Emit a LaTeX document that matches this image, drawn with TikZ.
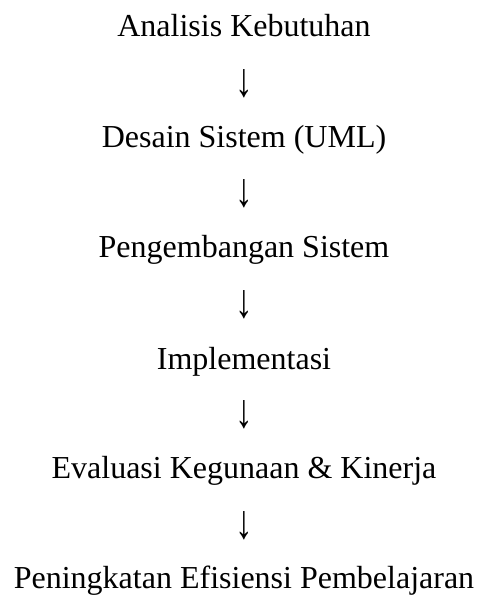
\documentclass[tikz,border=0pt]{standalone}
\usepackage{fontspec}
\setmainfont{Liberation Serif}
\usepackage{tikz}
\usetikzlibrary{positioning}

\newcommand{\downarr}{\scalebox{1.1}[1.5]{↓}}

\begin{document}
\begin{tikzpicture}[x=1pt,y=1pt,
        stage/.style={
                anchor=base,
                inner sep=0pt,
                font=\fontsize{32}{38}\selectfont,
        },
        flow/.style={
                anchor=center,
                inner sep=0pt,
                font=\fontsize{32}{38}\selectfont,
        }]
            \useasboundingbox (0,0) rectangle (477,596);
            \node[stage] (analisis) at (244, 559.3) {Analisis Kebutuhan};
            \node[flow] (a1) at (244, 512.5) {\downarr};
            \node[stage] (desain) at (244, 448) {Desain Sistem (UML)};
            \node[flow] (a2) at (244, 402) {\downarr};
            \node[stage] (pengembangan) at (244, 338) {Pengembangan Sistem};
            \node[flow] (a3) at (244, 291.5) {\downarr};
            \node[stage] (implementasi) at (244, 226) {Implementasi};
            \node[flow] (a4) at (244, 181) {\downarr};
            \node[stage] (evaluasi) at (244, 117) {Evaluasi Kegunaan \& Kinerja};
            \node[flow] (a5) at (244, 70.5) {\downarr};
            \node[stage] (peningkatan) at (244, 8) {Peningkatan Efisiensi Pembelajaran};
        \end{tikzpicture}
\end{document}
